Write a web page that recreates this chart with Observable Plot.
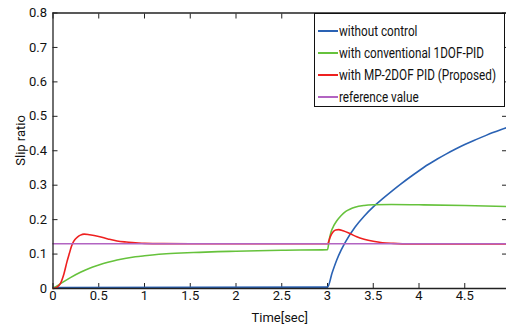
<!DOCTYPE html>
<html>
<head>
<meta charset="utf-8">
<script src="https://cdn.jsdelivr.net/npm/d3@7"></script>
<script src="https://cdn.jsdelivr.net/npm/@observablehq/plot@0.6"></script>
<style>
  html, body { margin: 0; padding: 0; background: #fff; overflow: hidden; }
  #wrap { position: relative; width: 506px; height: 327px; overflow: hidden; }
  #legend { position: absolute; left: 314px; top: 13px; width: 191px; height: 94px;
    border: 1.5px solid #111; background: #fff; box-sizing: border-box;
    font-family: Roboto, sans-serif; font-size: 14px; color: #111; }
  .row { position: absolute; left: 3px; height: 20px; display: flex; align-items: center; white-space: nowrap; }
  .sw { width: 20px; height: 2px; margin-right: 1px; flex: none; }
  .tx { display: inline-block; transform-origin: left center; }
</style>
</head>
<body>
<div id="wrap"><div id="legend"></div></div>
<script>
// Series names & colours
const seriesNames = ["without control", "with conventional 1DOF-PID", "with MP-2DOF PID (Proposed)", "reference value"];
const seriesColors = ["#2a62b4", "#66c23c", "#ee2020", "#b264c2"];

// without control
const blueT = [0, 3.0, 3.05, 3.1, 3.15, 3.2, 3.3, 3.4, 3.5, 3.6, 3.7, 3.8, 3.9, 4.0, 4.1, 4.2, 4.3, 4.4, 4.5, 4.6, 4.7, 4.8, 4.9, 5.0];
const blueY = [0.003, 0.004, 0.045, 0.082, 0.112, 0.137, 0.178, 0.21, 0.237, 0.26, 0.282, 0.303, 0.323, 0.342, 0.36, 0.376, 0.391, 0.405, 0.418, 0.43, 0.441, 0.452, 0.462, 0.471];

// with conventional 1DOF-PID
const greenT = [0, 0.1, 0.2, 0.3, 0.4, 0.5, 0.6, 0.7, 0.8, 0.9, 1.0, 1.2, 1.4, 1.6, 1.8, 2.0, 2.5, 3.0, 3.02, 3.04, 3.07, 3.1, 3.15, 3.2, 3.25, 3.3, 3.4, 3.5, 3.7, 4.0, 4.5, 5.0];
const greenY = [0, 0.017, 0.033, 0.047, 0.059, 0.068, 0.076, 0.083, 0.088, 0.092, 0.095, 0.1, 0.103, 0.105, 0.107, 0.108, 0.111, 0.113, 0.143, 0.165, 0.183, 0.196, 0.212, 0.224, 0.231, 0.236, 0.241, 0.243, 0.244, 0.243, 0.241, 0.238];

// with MP-2DOF PID (Proposed)
const redT = [0, 0.04, 0.08, 0.12, 0.153, 0.18, 0.2, 0.22, 0.24, 0.27, 0.3, 0.34, 0.4, 0.5, 0.6, 0.7, 0.8, 0.9, 1.0, 1.2, 1.5, 3.0, 3.03, 3.06, 3.09, 3.12, 3.17, 3.25, 3.32, 3.4, 3.5, 3.6, 3.72, 3.9, 5.0];
const redY = [0, 0.003, 0.014, 0.043, 0.078, 0.103, 0.121, 0.134, 0.142, 0.15, 0.155, 0.158, 0.156, 0.151, 0.144, 0.138, 0.135, 0.133, 0.131, 0.1302, 0.13, 0.13, 0.15, 0.164, 0.17, 0.171, 0.168, 0.159, 0.15, 0.143, 0.137, 0.133, 0.131, 0.1295, 0.129];

// reference value
const refT = [0, 5];
const refY = [0.13, 0.13];

// ticks
const xTicks = [0, 0.5, 1, 1.5, 2, 2.5, 3, 3.5, 4, 4.5];
const xTickLabels = ["0", "0.5", "1", "1.5", "2", "2.5", "3", "3.5", "4", "4.5"];
const yTicks = [0, 0.1, 0.2, 0.3, 0.4, 0.5, 0.6, 0.7, 0.8];
const yTickLabels = ["0", "0.1", "0.2", "0.3", "0.4", "0.5", "0.6", "0.7", "0.8"];
const xDomain = [0, 5];
const yDomain = [0, 0.8];

const toRows = (T, Y) => T.map((t, i) => ({t, v: Y[i]}));
const series = [toRows(blueT, blueY), toRows(greenT, greenY), toRows(redT, redY), toRows(refT, refY)];

const lineMarks = series.map((rows, i) =>
  Plot.line(rows, {x: "t", y: "v", stroke: seriesColors[i], strokeWidth: 1.6, curve: "monotone-x"}));

const chart = Plot.plot({
  width: 506,
  height: 327,
  marginLeft: 52.5,
  marginRight: 0,
  marginTop: 12.5,
  marginBottom: 39,
  style: {fontFamily: "Roboto, sans-serif", fontSize: "13px", color: "#111", background: "transparent"},
  x: {domain: xDomain, range: [52.5, 510]},
  y: {domain: yDomain, range: [288, 12.5]},
  marks: [
    Plot.axisX({ticks: xTicks, tickFormat: (d, i) => xTickLabels[i], tickSize: -5, tickPadding: 7, label: "Time[sec]", labelAnchor: "center", labelOffset: 33, labelArrow: "none", stroke: "#222"}),
    Plot.axisX({anchor: "top", ticks: xTicks, tickFormat: () => "", tickSize: -5, label: null, stroke: "#222"}),
    Plot.axisY({ticks: yTicks, tickFormat: (d, i) => yTickLabels[i], tickSize: -5, tickPadding: 11, label: null, stroke: "#222"}),
    Plot.axisY({anchor: "right", ticks: yTicks, tickFormat: () => "", tickSize: -5, label: null, stroke: "#222", dx: 0}),
    ...lineMarks,
    Plot.ruleX([xDomain[0], xDomain[1]], {stroke: "#222", strokeWidth: 1.3}),
    Plot.ruleY([yDomain[0], yDomain[1]], {stroke: "#222", strokeWidth: 1.3}),
    Plot.text(["Slip ratio"], {frameAnchor: "left", dx: -32, dy: 15, rotate: -90, fill: "#111", fontSize: 13})
  ]
});
document.getElementById("wrap").prepend(chart);

// legend
const legend = document.getElementById("legend");
const spans = [];
seriesNames.forEach((name, i) => {
  const row = document.createElement("div");
  row.className = "row";
  row.style.top = (7 + i * 22) + "px";
  const sw = document.createElement("div");
  sw.className = "sw";
  sw.style.background = seriesColors[i];
  const tx = document.createElement("span");
  tx.className = "tx";
  tx.textContent = name;
  row.appendChild(sw); row.appendChild(tx);
  legend.appendChild(row);
  spans.push(tx);
});
// condense legend text to the reference's narrow face
const longest = spans[2].getBoundingClientRect().width;
const k = 157 / longest;
spans.forEach(s => { s.style.transform = `scaleX(${k})`; });
</script>
</body>
</html>
